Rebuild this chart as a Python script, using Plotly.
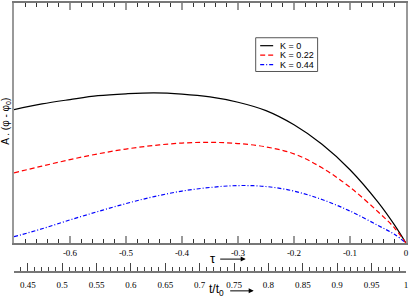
import plotly.graph_objects as go

tau = [-0.7, -0.65, -0.6, -0.55, -0.5, -0.45, -0.4, -0.35, -0.3, -0.25, -0.2, -0.15, -0.1, -0.05, -0.02, 0.0]
k0 = [0.556, 0.580, 0.598, 0.614, 0.622, 0.626, 0.621, 0.609, 0.587, 0.552, 0.493, 0.412, 0.306, 0.171, 0.074, 0.0]
k022 = [0.293, 0.321, 0.348, 0.372, 0.392, 0.407, 0.417, 0.420, 0.415, 0.401, 0.372, 0.314, 0.233, 0.131, 0.062, 0.0]
k044 = [0.027, 0.060, 0.097, 0.132, 0.165, 0.194, 0.217, 0.232, 0.240, 0.236, 0.217, 0.182, 0.134, 0.074, 0.036, 0.0]
names = ["K = 0", "K = 0.22", "K = 0.44"]
colors = ["black", "#ff0000", "#0000ff"]
dashes = ["solid", "5px,3px", "4px,2px,1px,2px"]
tau_ticks = [-0.6, -0.5, -0.4, -0.3, -0.2, -0.1, 0]
tau_ticklabels = ["-0.6", "-0.5", "-0.4", "-0.3", "-0.2", "-0.1", "0"]
tt_ticks = [0.45, 0.5, 0.55, 0.6, 0.65, 0.7, 0.75, 0.8, 0.85, 0.9, 0.95, 1.0]
tt_ticklabels = ["0.45", "0.5", "0.55", "0.6", "0.65", "0.7", "0.75", "0.8", "0.85", "0.9", "0.95", "1"]

W, H = 410, 299
ML, MR, MT, MB = 14, 3.5, 1, 27
PW, PH = W - ML - MR, H - MT - MB


def px(xp):
    return (xp - ML) / PW


def py(yp):
    return (H - MB - yp) / PH


fig = go.Figure()
for ys, nm, c, d in zip([k0, k022, k044], names, colors, dashes):
    fig.add_trace(go.Scatter(x=tau, y=ys, name=nm, mode="lines", showlegend=False,
                             line=dict(color=c, width=1.2, dash=d, shape="spline")))
# invisible trace to activate the secondary t/t0 axis
fig.add_trace(go.Scatter(x=[0.43, 1.0], y=[-5, -5], xaxis="x2", yaxis="y", mode="lines",
                         showlegend=False, hoverinfo="skip", line=dict(width=0)))

tickfont = dict(family="Liberation Serif", size=9, color="black")

# compact legend box
shapes = [dict(type="rect", xref="paper", yref="paper", x0=px(256), x1=px(318), y0=py(70), y1=py(36),
               line=dict(color="#555", width=1), fillcolor="white", layer="above")]
annotations = []
row_y = [44, 53.5, 63]
for nm, c, d, ry in zip(names, colors, dashes, row_y):
    shapes.append(dict(type="line", xref="paper", yref="paper", x0=px(260.5), x1=px(273.5), y0=py(ry), y1=py(ry),
                       line=dict(color=c, width=1.2, dash=d), layer="above"))
    annotations.append(dict(text=nm, xref="paper", yref="paper", x=px(278.5), y=py(ry),
                            xanchor="left", yanchor="middle", showarrow=False,
                            font=dict(family="Liberation Sans", size=9, color="black")))

annotations += [
    dict(text="A . (φ - φ<sub>0</sub>)", textangle=-90, xref="paper", yref="paper",
         x=px(6.5), y=py(120), xanchor="center", yanchor="middle", showarrow=False,
         font=dict(family="Liberation Sans", size=10, color="black")),
    dict(text="τ", xref="paper", yref="paper", x=px(213), y=py(258),
         xanchor="center", yanchor="middle", showarrow=False,
         font=dict(family="Liberation Sans", size=13, color="black")),
    dict(text="", xref="paper", yref="paper", x=px(246), y=py(259), ax=-27, ay=0,
         showarrow=True, arrowhead=2, arrowsize=1, arrowwidth=1, arrowcolor="black"),
    dict(text="t/t<sub>0</sub>", xref="paper", yref="paper", x=px(217), y=py(290),
         xanchor="center", yanchor="middle", showarrow=False,
         font=dict(family="Liberation Sans", size=12, color="black")),
    dict(text="", xref="paper", yref="paper", x=px(254), y=py(291), ax=-25, ay=0,
         showarrow=True, arrowhead=2, arrowsize=1, arrowwidth=1, arrowcolor="black"),
]

fig.update_layout(
    width=W, height=H,
    margin=dict(l=ML, r=MR, t=MT, b=MB),
    paper_bgcolor="white", plot_bgcolor="white",
    showlegend=False,
    xaxis=dict(range=[-0.7, 0], anchor="y", showgrid=False, zeroline=False,
               showline=True, linecolor="#777", linewidth=1.5, mirror="ticks",
               ticks="inside", ticklen=7, tickwidth=2, tickcolor="#999",
               tickvals=tau_ticks, ticktext=tau_ticklabels, tickfont=tickfont,
               minor=dict(dtick=0.02, tick0=0, ticks="inside", ticklen=4, tickwidth=1, tickcolor="#333")),
    xaxis2=dict(range=[0.43, 1.0], anchor="free", position=0, side="bottom", overlaying="x",
                showgrid=False, zeroline=False, showline=True, linecolor="#777", linewidth=2,
                ticks="inside", ticklen=8, tickwidth=1, tickcolor="#444",
                tickvals=tt_ticks, ticktext=tt_ticklabels, tickfont=tickfont, ticklabelstandoff=4,
                minor=dict(dtick=0.01, tick0=0, ticks="inside", ticklen=4, tickwidth=1, tickcolor="#444")),
    yaxis=dict(range=[0, 1], domain=[py(243), 1], showgrid=False, zeroline=False,
               showline=True, linecolor="#999", linewidth=2, mirror=True,
               ticks="", showticklabels=False),
    shapes=shapes,
    annotations=annotations,
)

fig.write_html("out.html", config={"displayModeBar": False},
               post_script="document.body.style.margin='0';")
